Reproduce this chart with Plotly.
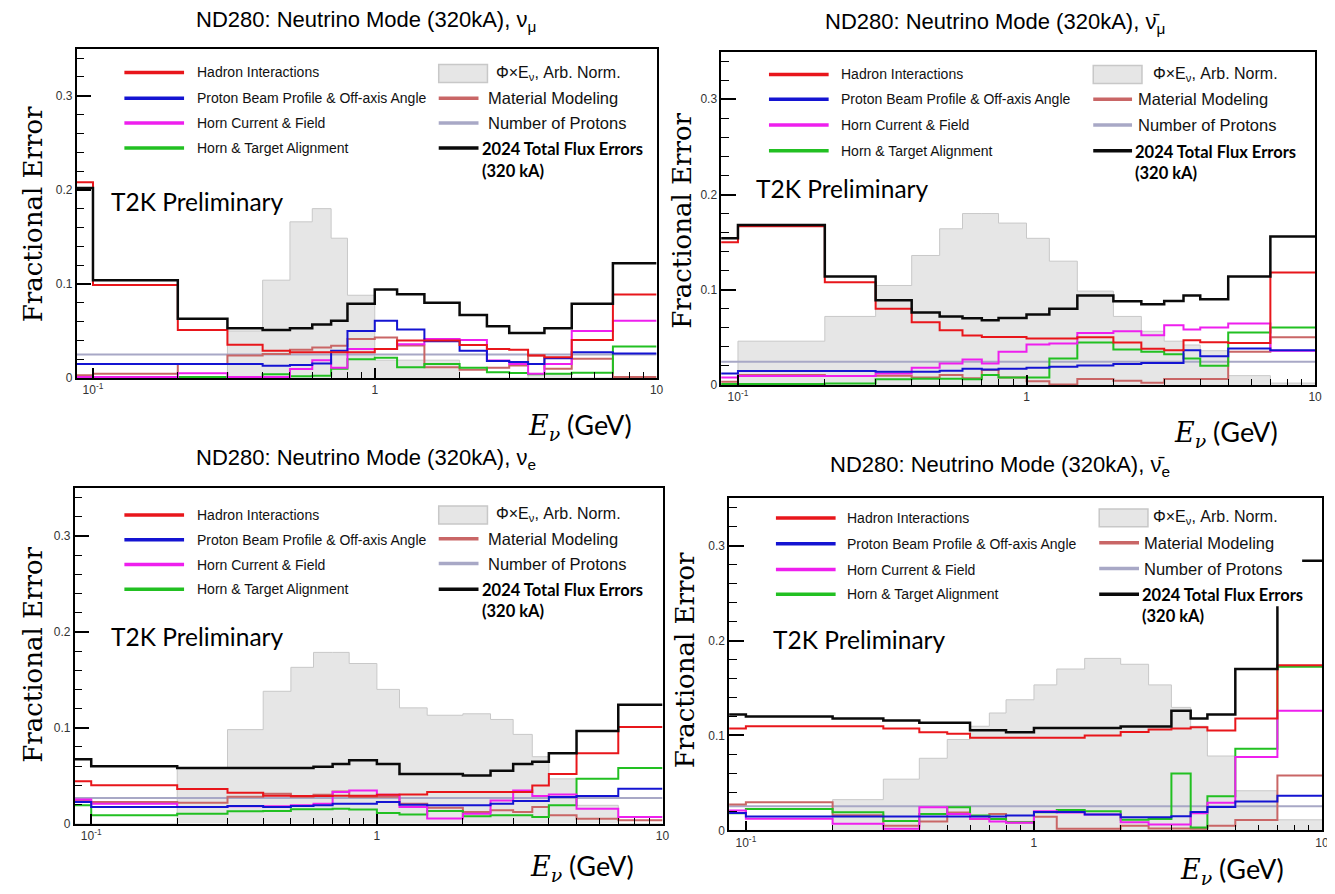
import plotly.graph_objects as go

W, H = 1335, 894
OFF = 8  # browser body margin
WF, HF = W - OFF, H - OFF

# ---------------- data ----------------
# bin edges in GeV (first edge stands in for 0 on the log axis)
edges = [0.01, 0.1, 0.2, 0.3, 0.4, 0.5, 0.6, 0.7, 0.8, 1.0, 1.2, 1.5, 2.0,
         2.5, 3.0, 3.5, 4.0, 5.0, 7.0, 10.0]

# panel 1 : nu_mu
numu_total = [0.202, 0.104, 0.063, 0.053, 0.051, 0.053, 0.057, 0.061, 0.079, 0.094,
              0.089, 0.080, 0.067, 0.055, 0.048, 0.048, 0.053, 0.079, 0.122]
numu_hadron = [0.208, 0.099, 0.051, 0.0355, 0.029, 0.0273, 0.0273, 0.0273, 0.0275, 0.031,
               0.040, 0.040, 0.035, 0.031, 0.030, 0.024, 0.022, 0.0405, 0.0887]
numu_beam = [0.015, 0.015, 0.015, 0.015, 0.013, 0.014, 0.0156, 0.029, 0.050, 0.061,
             0.0515, 0.039, 0.029, 0.018, 0.017, 0.015, 0.021, 0.0275, 0.026]
numu_horn = [0.001, 0.001, 0.005, 0.001, 0.001, 0.0096, 0.019, 0.011, 0.031, 0.031,
             0.036, 0.0416, 0.0405, 0.0187, 0.015, 0.0046, 0.015, 0.050, 0.061]
numu_align = [0.001, 0.001, 0.001, 0.001, 0.004, 0.002, 0.0025, 0.010, 0.020, 0.0215,
              0.0116, 0.015, 0.011, 0.0063, 0.0053, 0.004, 0.0046, 0.0056, 0.0335]
numu_material = [0.003, 0.0045, 0.015, 0.024, 0.0255, 0.030, 0.0326, 0.0344, 0.0416, 0.043,
                 0.0346, 0.0116, 0.0088, 0.011, 0.0134, 0.024, 0.0099, 0.0205, 0.001]
numu_pot = [0.025] * 19
numu_flux = [0, 0, 0, 0.050, 0.104, 0.166, 0.180, 0.1486, 0.088, 0.019,
             0.019, 0.019, 0, 0, 0, 0.005, 0.004, 0, 0]

# panel 2 : anti nu_mu
numub_total = [0.154, 0.168, 0.114, 0.089, 0.076, 0.072, 0.070, 0.068, 0.0703, 0.0739,
               0.080, 0.094, 0.0878, 0.0847, 0.0882, 0.094, 0.090, 0.114, 0.156]
numub_hadron = [0.150, 0.1666, 0.108, 0.080, 0.066, 0.0575, 0.052, 0.0505, 0.0505, 0.0488,
                0.0488, 0.050, 0.0446, 0.038, 0.0366, 0.047, 0.045, 0.044, 0.118]
numub_beam = [0.012, 0.0146, 0.0146, 0.0139, 0.0139, 0.015, 0.017, 0.0164, 0.017, 0.018,
              0.0192, 0.0206, 0.022, 0.023, 0.023, 0.0366, 0.0303, 0.0383, 0.0366]
numub_horn = [0.008, 0.0094, 0.0094, 0.012, 0.018, 0.0226, 0.0268, 0.0226, 0.0348, 0.0425,
              0.0436, 0.0547, 0.0564, 0.0523, 0.0627, 0.0582, 0.0603, 0.0645, 0.0359]
numub_align = [0.001, 0.001, 0.0017, 0.006, 0.0066, 0.0066, 0.006, 0.0105, 0.008, 0.008,
               0.0279, 0.0446, 0.0373, 0.0348, 0.0324, 0.0279, 0.0202, 0.055, 0.0603]
numub_material = [0.0035, 0.0105, 0.0094, 0.0098, 0.008, 0.0105, 0.007, 0.0157, 0.008, 0.004,
                  0.0005, 0.0063, 0.0045, 0.0024, 0.0063, 0.0063, 0.0063, 0.0348, 0.050]
numub_pot = [0.0245] * 19
numub_flux = [0, 0.046, 0.072, 0.1045, 0.136, 0.164, 0.180, 0.180, 0.170, 0.154,
              0.130, 0.0986, 0.072, 0.0564, 0.046, 0.042, 0.036, 0.0098, 0.002]

# panel 3 : nu_e
nue_total = [0.067, 0.0597, 0.058, 0.058, 0.058, 0.058, 0.0593, 0.062, 0.066, 0.062,
             0.0517, 0.0517, 0.050, 0.055, 0.062, 0.0645, 0.0734, 0.0966, 0.124]
nue_hadron = [0.044, 0.040, 0.036, 0.032, 0.029, 0.0286, 0.0286, 0.029, 0.029, 0.030,
              0.0303, 0.0328, 0.0328, 0.0328, 0.0328, 0.0397, 0.0517, 0.0734, 0.1007]
nue_beam = [0.0224, 0.0172, 0.0172, 0.0183, 0.0172, 0.0183, 0.019, 0.0207, 0.0207, 0.0224,
            0.0197, 0.019, 0.019, 0.0207, 0.0234, 0.0234, 0.0276, 0.0286, 0.0362]
nue_horn = [0.025, 0.0207, 0.0172, 0.018, 0.018, 0.019, 0.0207, 0.0328, 0.0345, 0.030,
            0.0172, 0.0052, 0.0103, 0.024, 0.0345, 0.0286, 0.0303, 0.0155, 0.0069]
nue_align = [0.019, 0.0086, 0.0103, 0.0128, 0.013, 0.0148, 0.0148, 0.0155, 0.0145, 0.011,
             0.0093, 0.013, 0.0076, 0.0086, 0.0086, 0.0069, 0.019, 0.0466, 0.058]
nue_material = [0.024, 0.0224, 0.0217, 0.028, 0.031, 0.028, 0.030, 0.0335, 0.0276, 0.028,
                0.0207, 0.0165, 0.012, 0.0138, 0.012, 0.0172, 0.0086, 0.005, 0.0034]
nue_pot = [0.0266] * 19
nue_flux = [0, 0, 0.058, 0.098, 0.138, 0.163, 0.1786, 0.1786, 0.167, 0.140,
            0.1207, 0.113, 0.1145, 0.1086, 0.093, 0.0697, 0.0466, 0.019, 0]

# panel 4 : anti nu_e
nueb_total = [0.122, 0.120, 0.1178, 0.1157, 0.1133, 0.1133, 0.1055, 0.1055, 0.1035, 0.108,
              0.108, 0.108, 0.1095, 0.1095, 0.126, 0.1178, 0.122, 0.170, 0.284]
nueb_hadron = [0.1073, 0.1097, 0.1097, 0.1073, 0.1035, 0.1018, 0.0976, 0.0976, 0.0976, 0.0976,
               0.0976, 0.100, 0.1038, 0.1063, 0.1073, 0.1087, 0.1052, 0.1178, 0.174]
nueb_beam = [0.0185, 0.0146, 0.0146, 0.0146, 0.0146, 0.0146, 0.0146, 0.0146, 0.0157, 0.0195,
             0.0195, 0.0167, 0.0139, 0.0139, 0.015, 0.0195, 0.0247, 0.0306, 0.0366]
nueb_horn = [0.021, 0.0122, 0.007, 0.0017, 0.0244, 0.0174, 0.0122, 0.0094, 0.008, 0.0202,
             0.019, 0.0167, 0.0087, 0.0063, 0.0063, 0.018, 0.0292, 0.0773, 0.126]
nueb_align = [0.018, 0.0227, 0.0192, 0.010, 0.0174, 0.0244, 0.0157, 0.012, 0.0087, 0.0192,
              0.0216, 0.0202, 0.0112, 0.012, 0.060, 0.003, 0.036, 0.086, 0.1724]
nueb_material = [0.0272, 0.0296, 0.016, 0.005, 0.0094, 0.019, 0.012, 0.0174, 0.0087, 0.0143,
                 0.0017, 0.0017, 0.005, 0.002, 0.002, 0.0017, 0.005, 0.011, 0.058]
nueb_pot = [0.0255] * 19
nueb_flux = [0, 0, 0.0324, 0.054, 0.076, 0.0958, 0.1097, 0.1237, 0.1376, 0.1533,
             0.170, 0.1812, 0.175, 0.1533, 0.1296, 0.1097, 0.0784, 0.0418, 0.0112]

titles = ["ND280: Neutrino Mode (320kA), ν<sub>μ</sub>",
          "ND280: Neutrino Mode (320kA), ν\u0304<sub>μ</sub>",
          "ND280: Neutrino Mode (320kA), ν<sub>e</sub>",
          "ND280: Neutrino Mode (320kA), ν\u0304<sub>e</sub>"]

legend_left = ["Hadron Interactions", "Proton Beam Profile & Off-axis Angle",
               "Horn Current & Field", "Horn & Target Alignment"]
legend_right = ["Φ×E<sub>ν</sub>, Arb. Norm.", "Material Modeling", "Number of Protons"]
total_label = ["2024 Total Flux Errors", "(320 kA)"]

x_tickvals = [0.1, 1, 10]
x_ticktext = ["10<sup>-1</sup>", "1", "10"]
x_minor = [0.2, 0.3, 0.4, 0.5, 0.6, 0.7, 0.8, 0.9, 2, 3, 4, 5, 6, 7, 8, 9]
y_tickvals = [0, 0.1, 0.2, 0.3]
y_ticktext = ["0", "0.1", "0.2", "0.3"]

# ---------------- styles ----------------
C_RED = "#e8161b"
C_BLUE = "#1414d2"
C_MAG = "#ee1fee"
C_GREEN = "#22c022"
C_MAT = "#c96666"
C_POT = "#a8a8c6"
C_BLACK = "#0a0a0a"
C_FLUXFILL = "#e6e6e6"
C_FLUXLINE = "#c8c8c8"

panels = [
    dict(data=[numu_flux, numu_pot, numu_material, numu_align, numu_horn, numu_beam, numu_hadron, numu_total],
         frame=(77, 660, 49, 381), title=(368, 21), ytitle=(33, 216), xtitle=(583, 430),
         prelim=(110, 203), ll=(125, 185, 196, [73, 99, 124, 149]),
         lr=(441, 481, 489, 497, 484, [74, 99, 124, 149], 172)),
    dict(data=[numub_flux, numub_pot, numub_material, numub_align, numub_horn, numub_beam, numub_hadron, numub_total],
         frame=(725, 1322, 52, 388), title=(1000, 23), ytitle=(686, 222), xtitle=(1232, 437),
         prelim=(758, 190), ll=(773, 833, 843, [75, 100, 126, 152]),
         lr=(1099, 1138, 1142, 1157, 1140, [75, 100, 126, 152], 174)),
    dict(data=[nue_flux, nue_pot, nue_material, nue_align, nue_horn, nue_beam, nue_hadron, nue_total],
         frame=(75, 666, 492, 830), title=(368, 463), ytitle=(33, 660), xtitle=(585, 874),
         prelim=(110, 642), ll=(125, 185, 196, [519, 544, 569, 594]),
         lr=(441, 481, 489, 497, 484, [519, 543, 568, 594], 616)),
    dict(data=[nueb_flux, nueb_pot, nueb_material, nueb_align, nueb_horn, nueb_beam, nueb_hadron, nueb_total],
         frame=(733, 1329, 502, 837), title=(1005, 470), ytitle=(688, 665), xtitle=(1238, 877),
         prelim=(775, 645), ll=(780, 840, 849, [522, 548, 574, 599]),
         lr=(1105, 1145, 1148, 1157, 1147, [522, 547, 573, 599], 621)),
]

line_styles = [None,
               dict(color=C_POT, width=2),
               dict(color=C_MAT, width=2),
               dict(color=C_GREEN, width=2),
               dict(color=C_MAG, width=2),
               dict(color=C_BLUE, width=2),
               dict(color=C_RED, width=2),
               dict(color=C_BLACK, width=2.5)]
left_colors = [C_RED, C_BLUE, C_MAG, C_GREEN]


def px(x):
    return (x - OFF) / WF


def py(y):
    return 1 - (y - OFF) / HF


fig = go.Figure()
shapes = []
annotations = []
layout = dict(width=WF, height=HF, margin=dict(l=0, r=0, t=0, b=0),
              paper_bgcolor="white", plot_bgcolor="white", showlegend=False)

for i, p in enumerate(panels, start=1):
    xs = "" if i == 1 else str(i)
    l, r, t, b = p["frame"]
    for k, vals in enumerate(p["data"]):
        yv = list(vals) + [vals[-1]]
        if k == 0:
            fig.add_trace(go.Scatter(x=edges, y=yv, mode="lines",
                                     line=dict(shape="hv", color=C_FLUXLINE, width=1),
                                     fill="tozeroy", fillcolor=C_FLUXFILL,
                                     xaxis="x" + xs, yaxis="y" + xs, hoverinfo="skip"))
        else:
            st = dict(line_styles[k])
            st["shape"] = "hv"
            fig.add_trace(go.Scatter(x=edges, y=yv, mode="lines", line=st,
                                     xaxis="x" + xs, yaxis="y" + xs, hoverinfo="skip"))

    layout["xaxis" + xs] = dict(
        type="log", range=[-1.058, 1.0], domain=[px(l), px(r)], anchor="y" + xs,
        showline=True, linecolor="black", linewidth=1.5, mirror=True,
        ticks="inside", ticklen=10, tickwidth=1.5, tickcolor="black",
        tickmode="array", tickvals=x_tickvals, ticktext=x_ticktext,
        tickfont=dict(family="Liberation Sans", size=12, color="#333"),
        minor=dict(ticks="inside", ticklen=6, tickwidth=1.2, tickcolor="black",
                   tickmode="array", tickvals=x_minor),
        showgrid=False, zeroline=False, fixedrange=True)
    layout["yaxis" + xs] = dict(
        range=[0, 0.35], domain=[py(b), py(t)], anchor="x" + xs,
        showline=True, linecolor="black", linewidth=1.5, mirror=True,
        ticks="inside", ticklen=15, tickwidth=1.5, tickcolor="black",
        tickmode="array", tickvals=y_tickvals, ticktext=y_ticktext,
        tickfont=dict(family="Liberation Sans", size=12, color="#333"),
        minor=dict(ticks="inside", ticklen=8, tickwidth=1.2, tickcolor="black", dtick=0.02),
        showgrid=False, zeroline=False, fixedrange=True)

    # title
    tx, ty = p["title"]
    annotations.append(dict(x=px(tx), y=py(ty), xref="paper", yref="paper", text=titles[i - 1],
                            showarrow=False, xanchor="center", yanchor="middle",
                            font=dict(family="Liberation Sans", size=22, color="black")))
    # y title
    yx, yy = p["ytitle"]
    annotations.append(dict(x=px(yx), y=py(yy), xref="paper", yref="paper", text="Fractional Error",
                            showarrow=False, textangle=-90, xanchor="center", yanchor="middle",
                            font=dict(family="DejaVu Serif", size=26, color="black")))
    # x title
    xx, xy = p["xtitle"]
    annotations.append(dict(x=px(xx), y=py(xy), xref="paper", yref="paper",
                            text='<span style="font-family:DejaVu Serif"><i>E</i><sub><i>ν</i></sub></span> (GeV)',
                            showarrow=False, xanchor="center", yanchor="middle",
                            font=dict(family="Lato", size=27, color="black")))
    # T2K Preliminary
    qx, qy = p["prelim"]
    annotations.append(dict(x=px(qx), y=py(qy), xref="paper", yref="paper", text="T2K Preliminary",
                            showarrow=False, xanchor="left", yanchor="middle",
                            font=dict(family="Lato", size=24.5, color="black")))

    # right legend: white box
    x0, x1, xt, xtf, xtb, ys, ycap = p["lr"]
    shapes.append(dict(type="rect", xref="paper", yref="paper", x0=px(x0 - 6), x1=px(r - 20),
                       y0=py(ys[0] - 12), y1=py(ys[3] + 12), fillcolor="white",
                       line=dict(width=0), layer="above"))
    # left legend: lines + text
    lx0, lx1, ltx, lys = p["ll"]
    for j in range(4):
        shapes.append(dict(type="line", xref="paper", yref="paper", x0=px(lx0), x1=px(lx1),
                           y0=py(lys[j]), y1=py(lys[j]), line=dict(color=left_colors[j], width=3.5),
                           layer="above"))
        annotations.append(dict(x=px(ltx), y=py(lys[j]), xref="paper", yref="paper",
                                text=legend_left[j], showarrow=False, xanchor="left", yanchor="middle",
                                font=dict(family="Liberation Sans", size=14, color="#111")))
    # flux box
    shapes.append(dict(type="rect", xref="paper", yref="paper", x0=px(x0), x1=px(x0 + 49),
                       y0=py(ys[0] + 9), y1=py(ys[0] - 9), fillcolor=C_FLUXFILL,
                       line=dict(color=C_FLUXLINE, width=1.5), layer="above"))
    annotations.append(dict(x=px(xtf), y=py(ys[0]), xref="paper", yref="paper", text=legend_right[0],
                            showarrow=False, xanchor="left", yanchor="middle",
                            font=dict(family="Liberation Sans", size=16, color="#111")))
    for j, col in zip([1, 2], [C_MAT, C_POT]):
        shapes.append(dict(type="line", xref="paper", yref="paper", x0=px(x0), x1=px(x1),
                           y0=py(ys[j]), y1=py(ys[j]), line=dict(color=col, width=3.5), layer="above"))
        annotations.append(dict(x=px(xt), y=py(ys[j]), xref="paper", yref="paper", text=legend_right[j],
                                showarrow=False, xanchor="left", yanchor="middle",
                                font=dict(family="Liberation Sans", size=16.5, color="#111")))
    shapes.append(dict(type="line", xref="paper", yref="paper", x0=px(x0), x1=px(x1),
                       y0=py(ys[3]), y1=py(ys[3]), line=dict(color=C_BLACK, width=3.5), layer="above"))
    annotations.append(dict(x=px(xtb), y=py(ys[3] + 1), xref="paper", yref="paper",
                            text="<b>" + total_label[0] + "</b>",
                            showarrow=False, xanchor="left", yanchor="middle", borderpad=0,
                            font=dict(family="Lato", size=16.5, color="black")))
    annotations.append(dict(x=px(xtb), y=py(ycap), xref="paper", yref="paper",
                            text="<b>" + total_label[1] + "</b>",
                            showarrow=False, xanchor="left", yanchor="middle", borderpad=0,
                            font=dict(family="Lato", size=16.5, color="black")))

layout["shapes"] = shapes
layout["annotations"] = annotations
fig.update_layout(**layout)
fig.write_html("out.html")
